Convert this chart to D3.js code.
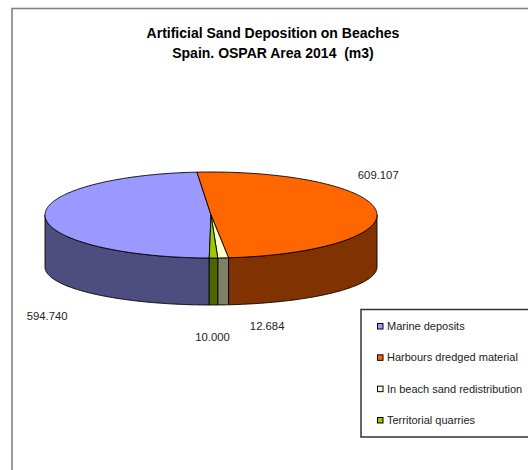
<!DOCTYPE html>
<html>
<head>
<meta charset="utf-8">
<script src="https://cdn.jsdelivr.net/npm/d3@7/dist/d3.min.js"></script>
<style>
  html, body { margin: 0; padding: 0; background: #fff; }
  svg { display: block; }
  text { font-family: "Liberation Sans", Arial, sans-serif; white-space: pre; }
</style>
</head>
<body>
<svg id="chart" width="528" height="470"></svg>
<script>
// ---- data ----
const titleLines = ["Artificial Sand Deposition on Beaches", "Spain. OSPAR Area 2014  (m3)"];
const categories = ["Marine deposits", "Harbours dredged material", "In beach sand redistribution", "Territorial quarries"];
const values = [594740, 609107, 12684, 10000];
const topColors = ["#9999FF", "#FF6600", "#FFFFCC", "#99CC00"];

// ---- layout ----
const W = 528, H = 470;
const cx = 211, cy = 215, rx = 166, ry = 43;
const sideDepth = 52, ryBottom = 38;          // perspective: bottom ellipse flatter
const firstSliceAngle = 180.6;                 // degrees, clockwise from 12 o'clock
const labelNudge = [[2, 99], [2, -36], [44, 68], [-1, 79]];

const svg = d3.select("#chart");
const locale = d3.formatLocale({ decimal: ",", thousands: ".", grouping: [3], currency: ["", ""] });
const fmt = locale.format(",d");

// outer frame
svg.append("rect").attr("x", 12).attr("y", 8.5).attr("width", W + 20).attr("height", H + 20)
  .attr("fill", "#fff").attr("stroke", "#828282").attr("stroke-width", 1.6);

// title
const title = svg.append("text").attr("text-anchor", "middle")
  .attr("font-size", 14).attr("font-weight", "bold").attr("fill", "#000")
  .attr("xml:space", "preserve");
titleLines.forEach((t, i) => title.append("tspan").attr("x", 273).attr("y", 38 + i * 20).text(t));

// pie geometry
const a0 = firstSliceAngle * Math.PI / 180;
const pie = d3.pie().sort(null).value(d => d).startAngle(a0).endAngle(a0 + 2 * Math.PI);
const arcs = pie(values);

const topPt = t => [cx + rx * Math.sin(t), cy - ry * Math.cos(t)];
const botPt = t => [cx + rx * Math.sin(t), cy + sideDepth - ryBottom * Math.cos(t)];
const N = 120;
function sampled(t0, t1, f) {
  const n = Math.max(2, Math.ceil(Math.abs(t1 - t0) / (2 * Math.PI) * N * 4));
  return d3.range(n + 1).map(i => f(t0 + (t1 - t0) * i / n));
}
const line = d3.line();
const darker = c => { const k = d3.rgb(c); return d3.rgb(k.r * 0.5, k.g * 0.5, k.b * 0.5).toString(); };

const g = svg.append("g");

// side walls (front half: angles in [pi/2, 3pi/2] modulo 2pi)
arcs.forEach((a, i) => {
  for (let k = -1; k <= 1; k++) {
    const lo = Math.PI / 2 + 2 * Math.PI * k, hi = 3 * Math.PI / 2 + 2 * Math.PI * k;
    const s = Math.max(a.startAngle, lo), e = Math.min(a.endAngle, hi);
    if (e > s) {
      const pts = sampled(s, e, topPt).concat(sampled(e, s, botPt));
      g.append("path").attr("d", line(pts) + "Z")
        .attr("fill", darker(topColors[i])).attr("stroke", "#000").attr("stroke-width", 0.9)
        .attr("stroke-linejoin", "round");
    }
  }
});

// top faces
arcs.forEach((a, i) => {
  const pts = [[cx, cy]].concat(sampled(a.startAngle, a.endAngle, topPt));
  g.append("path").attr("d", line(pts) + "Z")
    .attr("fill", topColors[i]).attr("stroke", "#000").attr("stroke-width", 0.9)
    .attr("stroke-linejoin", "round");
});

// data labels
arcs.forEach((a, i) => {
  const m = (a.startAngle + a.endAngle) / 2;
  const p = topPt(m);
  svg.append("text").attr("x", p[0] + labelNudge[i][0]).attr("y", p[1] + labelNudge[i][1])
    .attr("dy", "0.35em").attr("text-anchor", "middle")
    .attr("font-size", 11.3).attr("fill", "#222").text(fmt(a.data));
});

// legend
const lg = svg.append("g");
lg.append("rect").attr("x", 361).attr("y", 309.5).attr("width", 200).attr("height", 127.5)
  .attr("fill", "#fff").attr("stroke", "#333").attr("stroke-width", 1.5);
const rowY = d3.scalePoint().domain(categories).range([326, 420]);
categories.forEach((c, i) => {
  const y = rowY(c);
  lg.append("rect").attr("x", 377.5).attr("y", y - 2.5).attr("width", 5.5).attr("height", 5.5)
    .attr("fill", topColors[i]).attr("stroke", "#000").attr("stroke-width", 1);
  lg.append("text").attr("x", 387).attr("y", y).attr("dy", "0.35em")
    .attr("font-size", 11).attr("fill", "#222").text(c);
});
</script>
</body>
</html>
